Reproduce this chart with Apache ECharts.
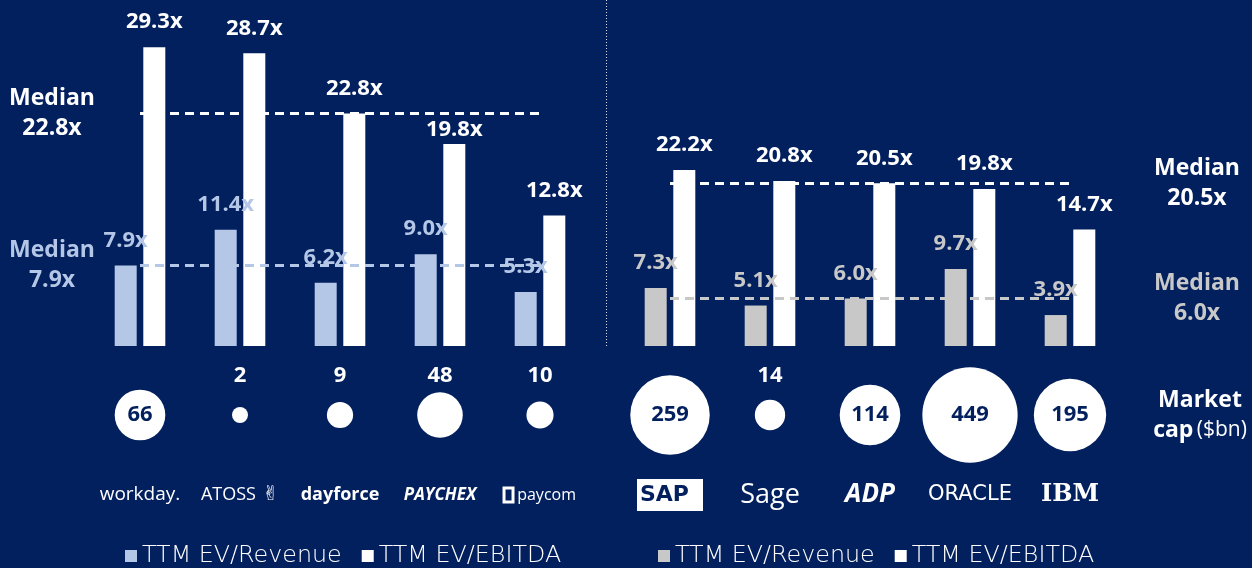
<!DOCTYPE html>
<html><head><meta charset="utf-8">
<script src="https://cdn.jsdelivr.net/npm/echarts@6/dist/echarts.min.js"></script>
<style>html,body{margin:0;padding:0;background:#03205E}#c{width:1252px;height:568px}</style>
</head><body><div id="c"></div>
<script>
// ---- data ----
const leftCompanies = ['Workday', 'ATOSS', 'Dayforce', 'Paychex', 'Paycom'];
const leftRevenue = [7.9, 11.4, 6.2, 9.0, 5.3];
const leftEbitda = [29.3, 28.7, 22.8, 19.8, 12.8];
const leftMarketCap = [66, 2, 9, 48, 10];
const leftRevenueMedian = 7.9;
const leftEbitdaMedian = 22.8;

const rightCompanies = ['SAP', 'Sage', 'ADP', 'Oracle', 'IBM'];
const rightRevenue = [7.3, 5.1, 6.0, 9.7, 3.9];
const rightEbitda = [22.2, 20.8, 20.5, 19.8, 14.7];
const rightMarketCap = [259, 14, 114, 449, 195];
const rightRevenueMedian = 6.0;
const rightEbitdaMedian = 20.5;

const revenueName = 'TTM EV/Revenue';
const ebitdaName = 'TTM EV/EBITDA';

// ---- styles ----
const NAVY = '#03205E';
const BLUE = '#B4C7E7';
const GRAY = '#C8C8C8';
const WHITE = '#FFFFFF';
const FONT = 'Open Sans';

const logoText = {
  Workday: '{workday|workday.}',
  ATOSS: '{atoss|ATOSS}{hand| ✌}',
  Dayforce: '{dayforce|dayforce}',
  Paychex: '{paychex|PAYCHEX}',
  Paycom: '{box|}{paycom| paycom}',
  SAP: '{sap|SAP}',
  Sage: '{sage|Sage}',
  ADP: '{adp|ADP}',
  Oracle: '{oracle|ORACLE}',
  IBM: '{ibm|IBM}'
};
const logoRich = {
  workday: {fontSize: 19, color: WHITE, fontFamily: FONT},
  atoss: {fontSize: 18, color: WHITE, fontFamily: FONT},
  hand: {fontSize: 20, color: WHITE, fontFamily: 'DejaVu Sans'},
  dayforce: {fontSize: 18, color: WHITE, fontWeight: 'bold', fontFamily: FONT},
  paychex: {fontSize: 17, color: WHITE, fontWeight: 'bold', fontStyle: 'italic', fontFamily: FONT},
  box: {width: 9, height: 14, borderColor: WHITE, borderWidth: 3},
  paycom: {fontSize: 16, color: WHITE, fontFamily: FONT},
  sap: {fontSize: 22, color: NAVY, fontWeight: 900, fontFamily: 'DejaVu Sans', backgroundColor: WHITE, padding: [5, 14, 5, 3]},
  sage: {fontSize: 27, color: WHITE, fontFamily: FONT},
  adp: {fontSize: 26, color: WHITE, fontWeight: 'bold', fontStyle: 'italic', fontFamily: FONT},
  oracle: {fontSize: 21, color: WHITE, fontFamily: 'DejaVu Sans'},
  ibm: {fontSize: 24, color: WHITE, fontWeight: 'bold', fontFamily: 'DejaVu Serif'}
};

const valLabel = (color) => ({
  show: true, position: 'top', distance: 14, color: color,
  fontSize: 22, fontWeight: 'bold', fontFamily: FONT,
  formatter: p => (typeof p.value === 'number' ? p.value : p.data.value).toFixed(1) + 'x'
});

// EBITDA values sitting just below the median line get their label tucked under the line
const ebitdaItems = (values, median) => values.map(v => {
  const gap = median - v;
  return (gap > 1 && gap < 4) ? {value: v, label: {distance: 3}} : v;
});

const medianSeries = (name, xi, companies, value, color, pos, dist) => ({
  name: name, type: 'line', xAxisIndex: xi, yAxisIndex: xi, data: [], silent: true,
  markLine: {
    symbol: 'none', silent: true, animation: false,
    lineStyle: {color: color, type: [9, 6], width: 3},
    label: {
      show: true, position: pos, distance: dist, align: 'center',
      color: color, fontSize: 23, fontWeight: 'bold', fontFamily: FONT, lineHeight: 30,
      formatter: () => 'Median\n' + value.toFixed(1) + 'x'
    },
    data: [[{coord: [companies[0], value]}, {coord: [companies[companies.length - 1], value]}]]
  }
});

const bubbleSize = v => 12.7 * Math.pow(v, 0.33);
const bubbleData = (companies, caps) => caps.map((v, i) => ({
  value: [companies[i], 0, v],
  label: v >= 60
    ? {show: true, position: 'inside', color: NAVY, fontSize: 22, fontWeight: 'bold', fontFamily: FONT, formatter: p => p.value[2]}
    : {show: true, position: 'inside', offset: [0, -39], color: WHITE, fontSize: 22, fontWeight: 'bold', fontFamily: FONT, formatter: p => p.value[2]}
}));

const hiddenCat = (data, gridIndex) => ({
  type: 'category', data: data, gridIndex: gridIndex,
  axisLine: {show: false}, axisTick: {show: false}, axisLabel: {show: false}, splitLine: {show: false}
});
const logoCat = (data, gridIndex) => ({
  type: 'category', data: data, gridIndex: gridIndex,
  axisLine: {show: false}, axisTick: {show: false}, splitLine: {show: false},
  axisLabel: {show: true, interval: 0, margin: 60, verticalAlign: 'middle',
    formatter: v => logoText[v], rich: logoRich}
});
const hiddenVal = (gridIndex, min, max) => ({
  type: 'value', gridIndex: gridIndex, min: min, max: max, show: false, splitLine: {show: false}
});

const legendText = {color: WHITE, fontSize: 23.8, fontFamily: 'DejaVu Sans', fontWeight: 200};

const chart = echarts.init(document.getElementById('c'));
chart.setOption({
  backgroundColor: NAVY,
  animation: false,
  grid: [
    {left: 90, width: 500, top: 40, bottom: 222},
    {left: 620, width: 500, top: 108, bottom: 222},
    {left: 90, width: 500, top: 395, height: 40},
    {left: 620, width: 500, top: 395, height: 40}
  ],
  xAxis: [
    hiddenCat(leftCompanies, 0),
    hiddenCat(rightCompanies, 1),
    logoCat(leftCompanies, 2),
    logoCat(rightCompanies, 3)
  ],
  yAxis: [
    hiddenVal(0, 0, 30),
    hiddenVal(1, 0, 30),
    hiddenVal(2, -1, 1),
    hiddenVal(3, -1, 1)
  ],
  legend: [
    {left: 120, top: 539, itemWidth: 12, itemHeight: 12, itemGap: 20, icon: 'rect',
      textStyle: legendText, data: [revenueName, ebitdaName]},
    {left: 653, top: 539, itemWidth: 12, itemHeight: 12, itemGap: 20, icon: 'rect',
      textStyle: legendText, data: [revenueName + '\u200b', ebitdaName + '\u200b']}
  ],
  graphic: [
    {type: 'line', shape: {x1: 606.5, y1: 0, x2: 606.5, y2: 346},
      style: {stroke: 'rgba(255,255,255,0.85)', lineWidth: 1, lineDash: [1, 2]}},
    {type: 'text', x: 1200, y: 415,
      style: {text: '{b|Market}\n{b|cap} {n|($bn)}', align: 'center', verticalAlign: 'middle',
        rich: {
          b: {fontSize: 23, fontWeight: 'bold', fill: WHITE, fontFamily: FONT, lineHeight: 30},
          n: {fontSize: 21, fill: WHITE, fontFamily: FONT, lineHeight: 30}
        }}}
  ],
  series: [
    {name: revenueName, type: 'bar', xAxisIndex: 0, yAxisIndex: 0, data: leftRevenue,
      barWidth: 22, barGap: '30%', itemStyle: {color: BLUE}, label: valLabel(BLUE)},
    {name: ebitdaName, type: 'bar', xAxisIndex: 0, yAxisIndex: 0, data: ebitdaItems(leftEbitda, leftEbitdaMedian),
      barWidth: 22, barGap: '30%', itemStyle: {color: WHITE}, label: valLabel(WHITE)},
    {name: revenueName + '\u200b', type: 'bar', xAxisIndex: 1, yAxisIndex: 1, data: rightRevenue,
      barWidth: 22, barGap: '30%', itemStyle: {color: GRAY}, label: valLabel(GRAY)},
    {name: ebitdaName + '\u200b', type: 'bar', xAxisIndex: 1, yAxisIndex: 1, data: ebitdaItems(rightEbitda, rightEbitdaMedian),
      barWidth: 22, barGap: '30%', itemStyle: {color: WHITE}, label: valLabel(WHITE)},
    medianSeries('medLR', 0, leftCompanies, leftRevenueMedian, BLUE, 'start', 88),
    medianSeries('medLE', 0, leftCompanies, leftEbitdaMedian, WHITE, 'start', 88),
    medianSeries('medRR', 1, rightCompanies, rightRevenueMedian, GRAY, 'end', 127),
    medianSeries('medRE', 1, rightCompanies, rightEbitdaMedian, WHITE, 'end', 127),
    {name: 'capL', type: 'scatter', xAxisIndex: 2, yAxisIndex: 2, silent: true,
      symbolSize: v => bubbleSize(v[2]), itemStyle: {color: WHITE, opacity: 1},
      data: bubbleData(leftCompanies, leftMarketCap)},
    {name: 'capR', type: 'scatter', xAxisIndex: 3, yAxisIndex: 3, silent: true,
      symbolSize: v => bubbleSize(v[2]), itemStyle: {color: WHITE, opacity: 1},
      data: bubbleData(rightCompanies, rightMarketCap)}
  ]
});
</script></body></html>
